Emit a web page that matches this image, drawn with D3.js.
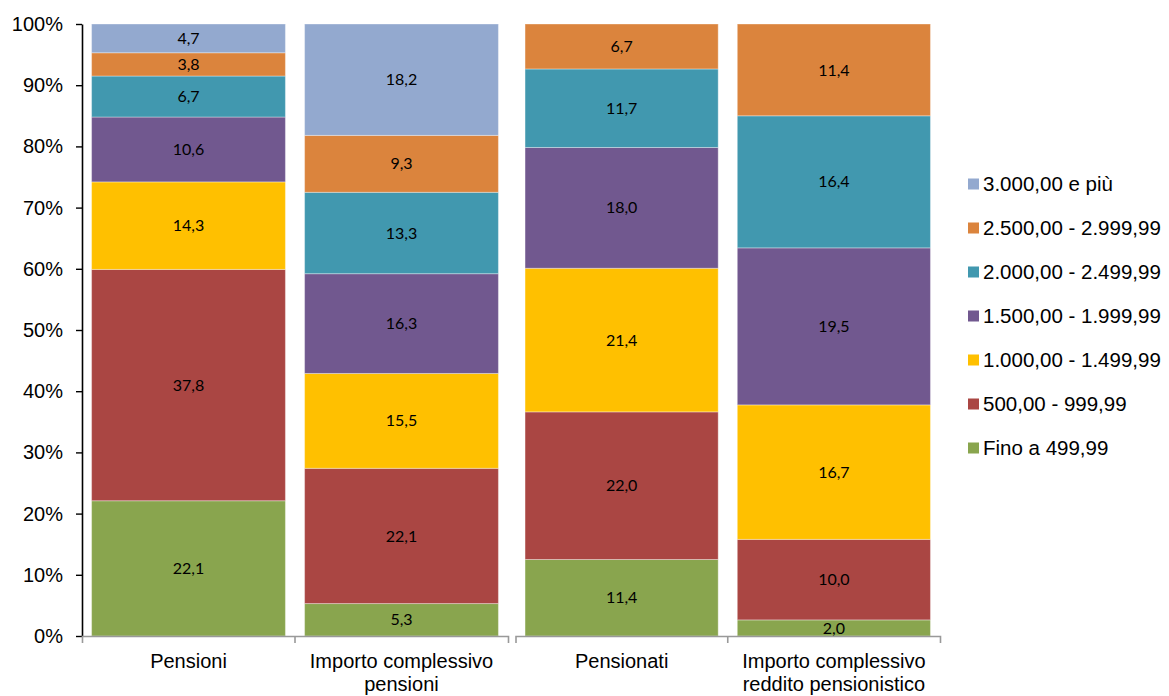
<!DOCTYPE html>
<html lang="it">
<head>
<meta charset="UTF-8">
<title>Pensioni per classe di importo</title>
<script src="https://d3js.org/d3.v7.min.js"></script>
<style>
  body { margin: 0; background: #fff; }
  .axis text { font-family: "Liberation Sans", Arial, sans-serif; font-size: 20px; fill: #000; }
  .lbl { font-family: Lato, "Open Sans", sans-serif; font-size: 16px; fill: #000; }
  .legend text { font-family: "Liberation Sans", Arial, sans-serif; font-size: 20.5px; fill: #000; }
</style>
</head>
<body>
<div id="chart"></div>
<script>
// categories (two groups drawn side by side, each with its own x axis)
var categories = ["Pensioni", "Importo complessivo pensioni", "Pensionati", "Importo complessivo reddito pensionistico"];
var groups = [[0, 1], [2, 3]];

// income classes, bottom to top
var classes = ["Fino a 499,99", "500,00 - 999,99", "1.000,00 - 1.499,99", "1.500,00 - 1.999,99",
               "2.000,00 - 2.499,99", "2.500,00 - 2.999,99", "3.000,00 e più"];

// values (%) per class, one per category
var fino500   = [22.1, 5.3, 11.4, 2.0];
var da500     = [37.8, 22.1, 22.0, 10.0];
var da1000    = [14.3, 15.5, 21.4, 16.7];
var da1500    = [10.6, 16.3, 18.0, 19.5];
var da2000    = [6.7, 13.3, 11.7, 16.4];
var da2500    = [3.8, 9.3, 6.7, 11.4];
var oltre3000 = [4.7, 18.2, 0, 0];
var seriesValues = [fino500, da500, da1000, da1500, da2000, da2500, oltre3000];

var colors = ["#89A54E", "#AA4643", "#FFC000", "#71588F", "#4198AF", "#DB843D", "#93A9CF"];
var yTicks = [0, 0.1, 0.2, 0.3, 0.4, 0.5, 0.6, 0.7, 0.8, 0.9, 1];

var W = 1169, H = 696;
var plotTop = 24, plotBottom = 636;
var groupRanges = [[82, 508], [515.5, 940]];

var svg = d3.select("#chart").append("svg")
  .attr("width", W).attr("height", H);

// build rows for d3.stack
var rows = categories.map(function(c, i) {
  var r = {cat: c};
  classes.forEach(function(k, j) { r[k] = seriesValues[j][i]; });
  return r;
});
var stacked = d3.stack().keys(classes).offset(d3.stackOffsetExpand)(rows);

var y = d3.scaleLinear().domain([0, 1]).range([plotBottom, plotTop]);

// one band scale per group
var xScales = groups.map(function(g, gi) {
  return d3.scaleBand()
    .domain(g.map(function(i) { return categories[i]; }))
    .range(groupRanges[gi])
    .paddingInner(0.09).paddingOuter(0.045);
});
function xOf(cat) {
  for (var gi = 0; gi < groups.length; gi++) {
    if (xScales[gi].domain().indexOf(cat) >= 0) return xScales[gi];
  }
}

// bars
stacked.forEach(function(layer, li) {
  var g = svg.append("g");
  var pts = layer.filter(function(d) { return d[1] - d[0] > 0; });
  g.selectAll("rect")
    .data(pts)
    .enter().append("rect")
      .attr("x", function(d) { return xOf(d.data.cat)(d.data.cat); })
      .attr("width", function(d) { return xOf(d.data.cat).bandwidth(); })
      .attr("y", function(d) { return y(d[1]); })
      .attr("height", function(d) { return y(d[0]) - y(d[1]); })
      .attr("fill", colors[li])
      .attr("stroke", "rgba(255,255,255,0.35)")
      .attr("stroke-width", 1);
  g.selectAll("text")
    .data(pts)
    .enter().append("text")
      .attr("class", "lbl")
      .attr("x", function(d) { var s = xOf(d.data.cat); return s(d.data.cat) + s.bandwidth() / 2; })
      .attr("y", function(d) { return (y(d[0]) + y(d[1])) / 2; })
      .attr("dy", "0.35em")
      .attr("text-anchor", "middle")
      .text(function(d) { return d3.format(".1f")(d.data[layer.key]).replace(".", ","); });
});

// y axis
var yAxis = svg.append("g")
  .attr("class", "axis")
  .attr("transform", "translate(" + groupRanges[0][0] + ",0)")
  .call(d3.axisLeft(y).tickValues(yTicks).tickFormat(d3.format(".0%")).tickSize(6).tickSizeOuter(0).tickPadding(13));
yAxis.select(".domain").attr("stroke", "#000").attr("stroke-width", 1.6);
yAxis.selectAll(".tick line").attr("stroke", "#000").attr("stroke-width", 1.4);

// x axes, one per group, ticks at category boundaries
xScales.forEach(function(xs) {
  var ax = svg.append("g")
    .attr("class", "axis")
    .attr("transform", "translate(0," + plotBottom + ")")
    .call(d3.axisBottom(xs).tickSize(0).tickSizeOuter(7).tickPadding(18));
  ax.select(".domain").attr("stroke", "#999").attr("stroke-width", 1.6);
  var r = xs.range();
  ax.append("line")
    .attr("x1", (r[0] + r[1]) / 2).attr("x2", (r[0] + r[1]) / 2)
    .attr("y1", 0).attr("y2", 7)
    .attr("stroke", "#999").attr("stroke-width", 1.6);
  ax.selectAll(".tick text").call(wrap, xs.step() - 6);
});

function wrap(sel, width) {
  sel.each(function() {
    var t = d3.select(this), words = t.text().split(/\s+/), line = [], lines = [];
    t.text(null);
    var tmp = t.append("tspan");
    words.forEach(function(w) {
      line.push(w);
      tmp.text(line.join(" "));
      if (tmp.node().getComputedTextLength() > width && line.length > 1) {
        line.pop(); lines.push(line.join(" ")); line = [w];
      }
    });
    lines.push(line.join(" "));
    tmp.remove();
    var y0 = t.attr("y");
    lines.forEach(function(l, i) {
      t.append("tspan").attr("x", 0).attr("y", y0).attr("dy", (0.71 + i * 1.15) + "em").text(l);
    });
  });
}

// legend, top class first
var legend = svg.append("g").attr("class", "legend")
  .attr("transform", "translate(968,184)");
var order = classes.slice().reverse();
order.forEach(function(k, i) {
  var row = legend.append("g").attr("transform", "translate(0," + (i * 44) + ")");
  row.append("rect").attr("x", 0).attr("y", -5.5).attr("width", 11).attr("height", 11)
    .attr("fill", colors[classes.indexOf(k)]);
  row.append("text").attr("x", 15).attr("y", 0).attr("dy", "0.35em").text(k);
});
</script>
</body>
</html>
